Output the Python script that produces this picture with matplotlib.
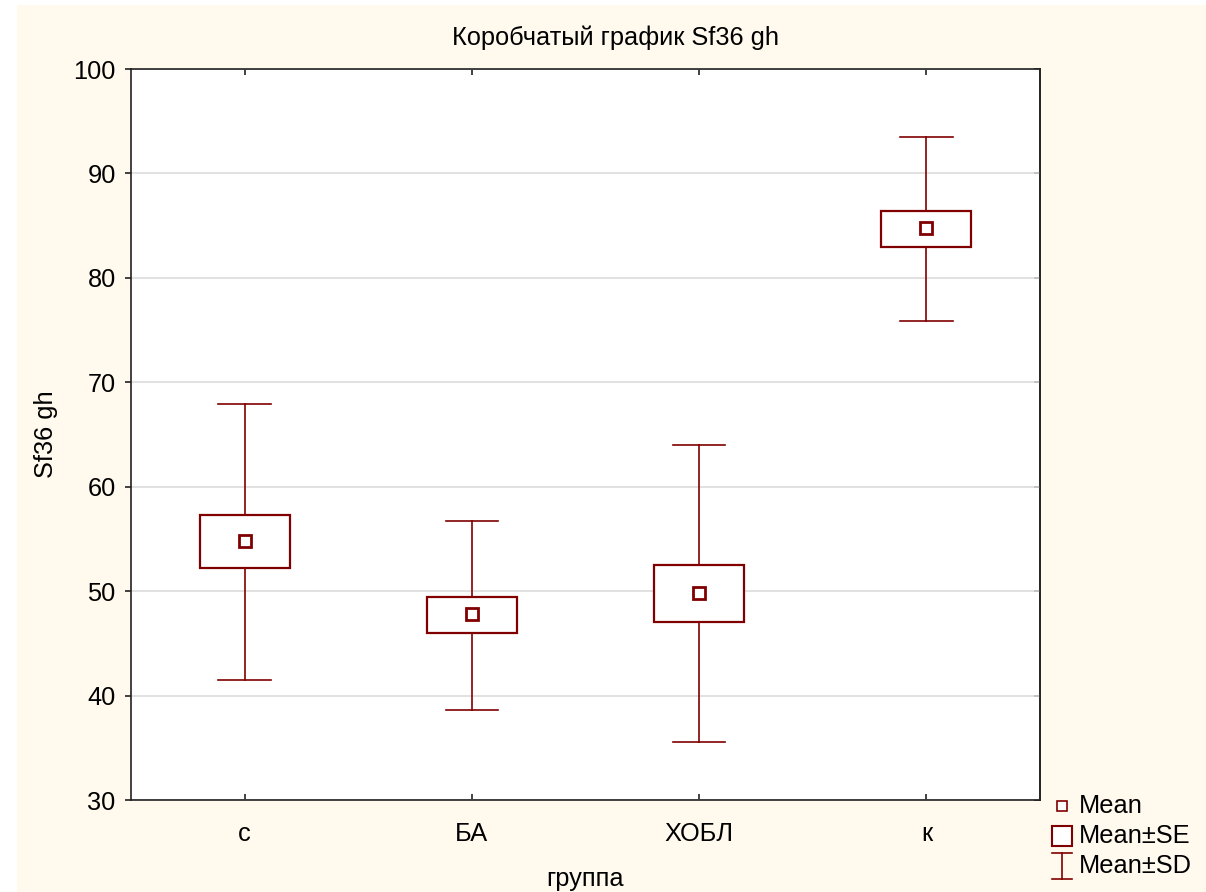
import matplotlib
matplotlib.use("Agg")
import matplotlib.pyplot as plt
from matplotlib.patches import Rectangle
from matplotlib.lines import Line2D

plt.rcParams['font.family'] = ['Liberation Sans', 'DejaVu Sans']

categories = ['с', 'БА', 'ХОБЛ', 'к']
means = [54.8, 47.8, 49.8, 84.8]
se_low = [52.2, 46.0, 47.0, 83.0]
se_high = [57.3, 49.4, 52.5, 86.4]
sd_low = [41.5, 38.6, 35.6, 75.9]
sd_high = [67.9, 56.7, 64.0, 93.5]
yticks = [30, 40, 50, 60, 70, 80, 90, 100]

title = 'Коробчатый график Sf36 gh'
xlabel = 'группа'
ylabel = 'Sf36 gh'

RED = '#800000'
CREAM = '#FFF9EE'
FS = 18.3

fig = plt.figure(figsize=(12.06, 8.92), dpi=100)
fig.patch.set_facecolor('white')
fig.add_artist(Rectangle((17/1206, 0), 1 - 17/1206, 1 - 5/892,
                         transform=fig.transFigure, facecolor=CREAM,
                         edgecolor='none', zorder=-10))

ax = fig.add_axes([131/1206, 1 - 800/892, (1040-131)/1206, (800-69)/892])
ax.set_facecolor('white')

box_w = 0.395
cap_w = 0.23
for i in range(len(categories)):
    # whiskers
    ax.plot([i, i], [sd_low[i], se_low[i]], color=RED, lw=1.2, zorder=2)
    ax.plot([i, i], [se_high[i], sd_high[i]], color=RED, lw=1.2, zorder=2)
    ax.plot([i - cap_w/2, i + cap_w/2], [sd_low[i], sd_low[i]], color=RED, lw=1.2, zorder=2)
    ax.plot([i - cap_w/2, i + cap_w/2], [sd_high[i], sd_high[i]], color=RED, lw=1.2, zorder=2)
    # SE box
    ax.add_patch(Rectangle((i - box_w/2, se_low[i]), box_w, se_high[i] - se_low[i],
                           facecolor='white', edgecolor=RED, lw=1.6, zorder=3))
    # mean
    ax.plot([i], [means[i]], marker='s', markersize=8.5, markerfacecolor='white',
            markeredgecolor=RED, markeredgewidth=2.0, zorder=4)

ax.set_xlim(-0.5, 3.5)
ax.set_ylim(30, 100)
ax.set_yticks(yticks)
ax.set_xticks(range(len(categories)))
ax.set_xticklabels(categories)
ax.yaxis.grid(True, color='#DCDCDC', lw=1.2)
ax.set_axisbelow(True)

for s in ax.spines.values():
    s.set_color('#222222')
    s.set_linewidth(1.2)

ax.tick_params(axis='y', which='both', direction='out', length=4, width=1.2,
               labelsize=FS, pad=7, right=False, color='#222222')
ax.tick_params(axis='x', which='both', direction='in', length=4, width=1.2,
               labelsize=FS, pad=16, top=True, color='#222222')
ax2 = ax.secondary_yaxis('right')
ax2.set_yticks(yticks)
ax2.tick_params(direction='in', length=4, width=1.2, labelright=False, color='#222222')
ax2.spines['right'].set_linewidth(1.2)
ax2.spines['right'].set_color('#222222')

ax.set_xlabel(xlabel, fontsize=FS, labelpad=15)
ax.set_ylabel(ylabel, fontsize=FS, labelpad=11)
fig.text(615/1206, 1 - 38/892, title, fontsize=FS, ha='center', va='center')

# legend
lx = 1062/1206
tx = 1079/1206
def fy(py):
    return 1 - py/892
fig.add_artist(Line2D([lx], [fy(806)], marker='s', markersize=6.5, markerfacecolor='white',
                      markeredgecolor=RED, markeredgewidth=1.2, transform=fig.transFigure))
fig.add_artist(Line2D([lx], [fy(836)], marker='s', markersize=14, markerfacecolor='white',
                      markeredgecolor=RED, markeredgewidth=1.5, transform=fig.transFigure))
hw = 10/1206
fig.add_artist(Line2D([lx, lx], [fy(853), fy(879)], color=RED, lw=1.2, transform=fig.transFigure))
fig.add_artist(Line2D([lx - hw, lx + hw], [fy(853), fy(853)], color=RED, lw=1.2, transform=fig.transFigure))
fig.add_artist(Line2D([lx - hw, lx + hw], [fy(879), fy(879)], color=RED, lw=1.2, transform=fig.transFigure))
for py, lab in [(806, 'Mean'), (836, 'Mean±SE'), (866, 'Mean±SD')]:
    fig.text(tx, fy(py), lab, fontsize=FS, ha='left', va='center')

fig.savefig('out.png', dpi=100, facecolor=fig.get_facecolor())
